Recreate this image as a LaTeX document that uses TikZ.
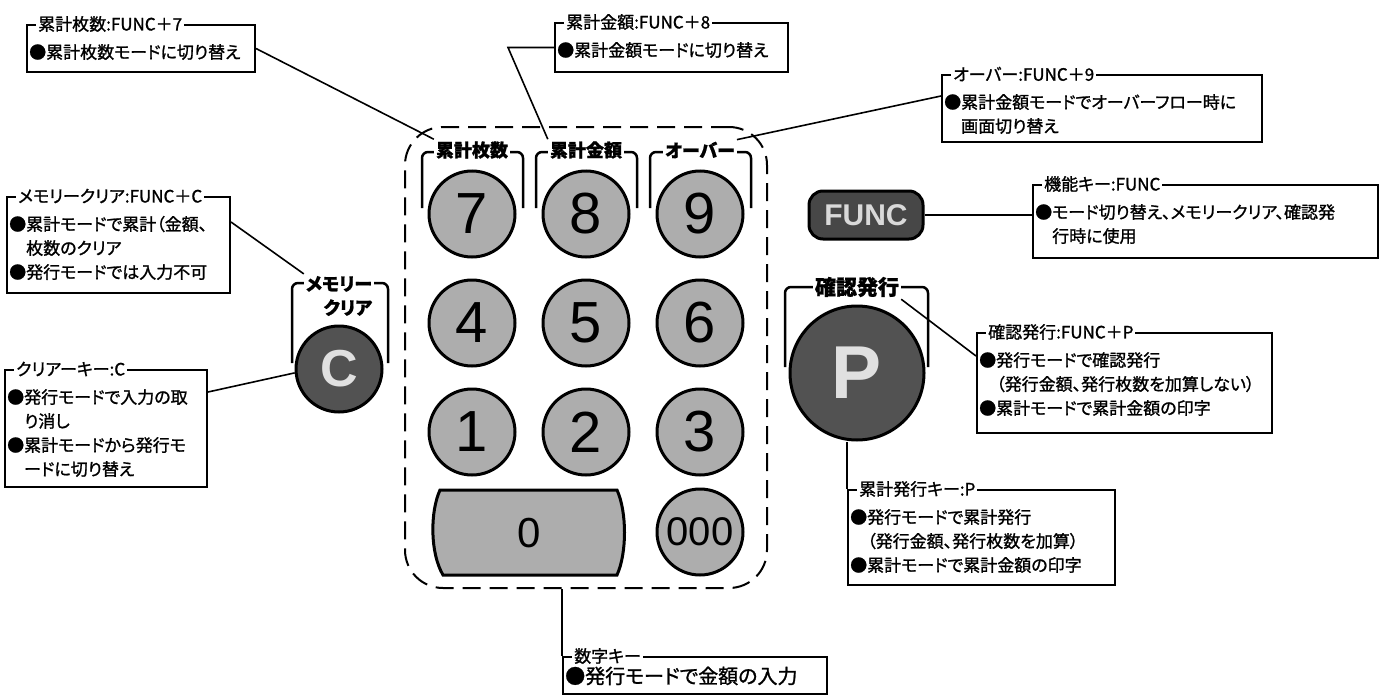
\documentclass[tikz,border=0pt]{standalone}
\usepackage{fontspec}
\setmainfont{Noto Sans CJK JP}[RawFeature=+palt, FakeBold=1.2]
\newfontfamily\keyfont{Liberation Sans}
\usetikzlibrary{fit}

\tikzset{
  numkey/.style={circle, draw, line width=3pt, fill=black!32, minimum size=86pt, inner sep=0pt,
    font=\keyfont\fontsize{58}{58}\selectfont},
  darkkey/.style={circle, draw, line width=3pt, fill=black!68, text=black!12, inner sep=0pt,
    font=\keyfont\bfseries\fontsize{52}{52}\selectfont},
  zerokey/.style={draw, line width=3pt, fill=black!32},
  funckey/.style={draw, line width=3pt, fill=black!72, rounded corners=14pt, minimum width=114pt,
    minimum height=48pt, text=black!15, inner sep=0pt, font=\keyfont\bfseries\fontsize{30}{30}\selectfont},
  brk/.style={line width=2.5pt, rounded corners=6pt},
  brklabel/.style={fill=white, inner sep=2pt, font=\bfseries\fontsize{18}{24}\selectfont},
  cbox/.style={draw, line width=2pt, inner sep=0pt},
  ctitle/.style={fill=white, inner xsep=2pt, inner ysep=0pt, font=\fontsize{17}{18}\selectfont},
  ctext/.style={inner sep=0pt, align=left, font=\fontsize{17}{24}\selectfont},
  conn/.style={line width=1.6pt},
  padbox/.style={draw, line width=2pt, dash pattern=on 18pt off 9pt, rounded corners=38pt, inner sep=0pt},
}

\newcommand\callbox[6]{%
  \node[cbox, fit={#2 #3}] (#1) {};
  \node[ctitle, anchor=west] (#1t) at ([xshift=10pt]#1.north west) {#4};
  \node[ctext, anchor=north west, #6] (#1c) at ([xshift=3pt,yshift=-17.5pt]#1.north west) {#5};
}
\newcommand\keybrk[3]{%
  \draw[brk] ({#2-50},208) -- ({#2-50},152) -- ({#2+51},152) -- ({#2+51},208);
  \node[brklabel] (#1) at (#2,150) {#3};
}

\begin{document}
\begin{tikzpicture}[x=1pt,y=-1pt]
\useasboundingbox (0,0) rectangle (1382,696);
\fill[white] (0,0) rectangle (1382,696);

% keypad group
\node[padbox, fit={(405,127) (767,588)}] (pad) {};

% brackets and their labels
\keybrk{l7}{472}{累計枚数}
\keybrk{l8}{586}{累計金額}
\keybrk{l9}{700}{オーバー}
\draw[brk] (292,363) -- (292,283) -- (388,283) -- (388,363);
\node[brklabel, align=right] (lc) at (339,296) {メモリー\\クリア};
\draw[brk] (785,367) -- (785,287) -- (928,287) -- (928,367);
\node[brklabel, font=\bfseries\fontsize{21}{24}\selectfont] (lp) at (857,287) {確認発行};

% number keys
\foreach \n/\x/\y in {7/472/214, 8/586/214, 9/700/214, 4/472/323, 5/586/323, 6/700/323, 1/472/432, 2/586/432, 3/700/432}
  \node[numkey] (k\n) at (\x,\y) {\n};
\node[numkey, font=\keyfont\fontsize{40}{40}\selectfont] (k000) at (700,532) {000};
\draw[zerokey] (440,490) -- (617,490) .. controls (627,512) and (627,553) .. (617,575)
  -- (443,575) .. controls (430,553) and (430,512) .. (440,490) -- cycle;
\node[font=\keyfont\fontsize{42}{42}\selectfont] (k0) at (529,533) {0};

% function keys
\node[funckey] (func) at (866,215) {FUNC};
\node[darkkey, minimum size=86pt] (kc) at (339,369) {C};
\node[darkkey, minimum size=134pt, font=\keyfont\bfseries\fontsize{75}{75}\selectfont] (kp) at (857,373) {P};

% callout boxes
\callbox{A}{(27,25)}{(255,72)}{累計枚数:FUNC＋7}{\strut●累計枚数モードに切り替え}{}
\callbox{B}{(555,23)}{(788,72)}{累計金額:FUNC＋8}{\strut●累計金額モードに切り替え}{}
\callbox{O}{(942,75)}{(1262,142)}{オーバー:FUNC＋9}{\strut●累計金額モードでオーバーフロー時に\\\strut\phantom{●}画面切り替え}{}
\callbox{D}{(1033,185)}{(1378,258)}{機能キー:FUNC}{\strut●モード切り替え、メモリークリア、確認発\\\strut\phantom{●}行時に使用}{}
\callbox{E}{(977,333)}{(1272,433)}{確認発行:FUNC＋P}{\strut●発行モードで確認発行\\\strut\phantom{●}（発行金額、発行枚数を加算しない）\\\strut●累計モードで累計金額の印字}{}
\callbox{F}{(848,490)}{(1115,585)}{累計発行キー:P}{\strut●発行モードで累計発行\\\strut\phantom{●}（発行金額、発行枚数を加算）\\\strut●累計モードで累計金額の印字}{}
\callbox{G}{(563,657)}{(827,694)}{数字キー}{\strut●発行モードで金額の入力}{yshift=7pt, font=\fontsize{20}{24}\selectfont}
\callbox{H}{(7,197)}{(230,293)}{メモリークリア:FUNC＋C}{\strut●累計モードで累計（金額、\\\strut\phantom{●}枚数のクリア\\\strut●発行モードでは入力不可}{}
\callbox{I}{(5,370)}{(207,487)}{クリアーキー:C}{\strut●発行モードで入力の取\\\strut\phantom{●}り消し\\\strut●累計モードから発行モ\\\strut\phantom{●}ードに切り替え}{}

% connectors
\draw[conn] (A.east) -- (l7.north west);
\draw[conn] (B.west) -- ++(-46,0) -- (l8.north west);
\draw[conn] ([yshift=-22pt]O.north west) -- (l9.north east);
\draw[conn] (func.east) -- (func.east -| D.west);
\draw[conn] (lp.south east) -- ([yshift=-24pt]E.north west);
\draw[conn] (F.north west) -- (F.north west |- kp.south);
\draw[conn] (G.north west |- pad.south) -- (G.north west);
\draw[conn] ([yshift=-26pt]H.north east) -- (lc.north west);
\draw[conn] ([yshift=-23pt]I.north east) -- (kc.185);
\end{tikzpicture}
\end{document}
